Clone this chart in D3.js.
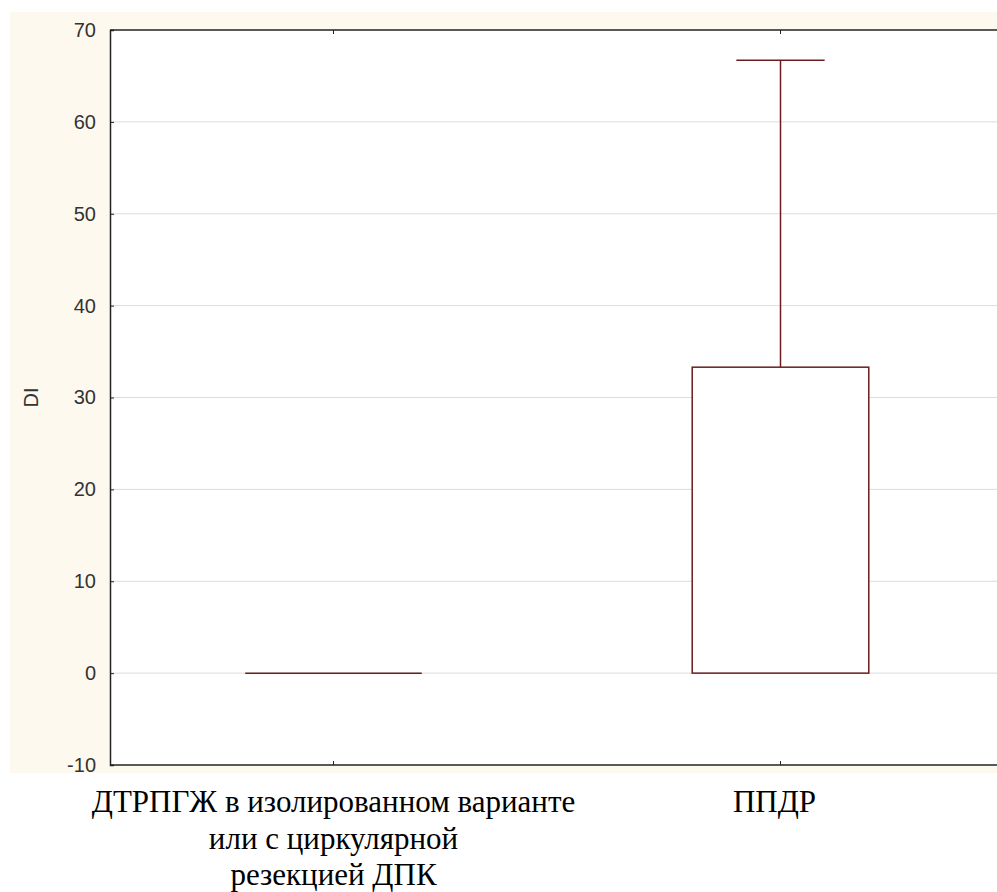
<!DOCTYPE html>
<html><head><meta charset="utf-8">
<script src="https://cdn.jsdelivr.net/npm/d3@7"></script>
<style>body{margin:0;background:#fff;}svg{display:block;}
.sans{font-family:"Liberation Sans",Arial,sans-serif;}
.serif{font-family:"Liberation Serif","Times New Roman",serif;}
</style>
</head><body>
<svg id="c" width="997" height="892"></svg>
<script>
const categories = ["ДТРПГЖ в изолированном варианте|или с циркулярной|резекцией ДПК", "ППДР"];
const boxLow   = [0, 0];
const boxHigh  = [0, 33.3];
const whiskLow = [0, 0];
const whiskHigh= [0, 66.7];
const yTicks = [-10, 0, 10, 20, 30, 40, 50, 60, 70];
const yLabel = "DI";

const svg = d3.select("#c");
const W = 997, H = 892;
const pL = 110, pT = 30, pB = 765, pR = 1004;

// cream panel
svg.append("rect").attr("x", 10).attr("y", 12).attr("width", W - 10).attr("height", 761).attr("fill", "#fdf9ee");
svg.append("rect").attr("x", pL).attr("y", pT).attr("width", pR - pL).attr("height", pB - pT).attr("fill", "#fff");

const y = d3.scaleLinear().domain([-10, 70]).range([pB, pT]);
const x = d3.scaleBand().domain(categories).range([pL, pR]).padding(0);
const xc = d => x(d) + x.bandwidth() / 2;

// gridlines
svg.append("g").selectAll("line").data(yTicks.filter(t => t > -10 && t < 70)).join("line")
  .attr("x1", pL).attr("x2", pR).attr("y1", d => y(d)).attr("y2", d => y(d))
  .attr("stroke", "#dcdcdc").attr("stroke-width", 1);

// y axis
const ya = svg.append("g").attr("transform", `translate(${pL},0)`)
  .call(d3.axisLeft(y).tickValues(yTicks).tickFormat(d => String(d)).tickSize(-4).tickPadding(14));
ya.attr("font-family", null).attr("font-size", null);
ya.select(".domain").attr("stroke", "#222").attr("stroke-width", 1.5);
ya.selectAll(".tick line").attr("stroke", "#222");
ya.selectAll(".tick text").attr("class", "sans").style("font-size", "20px").attr("fill", "#333");

// top and bottom frame
svg.append("line").attr("x1", pL).attr("x2", pR).attr("y1", pT).attr("y2", pT).attr("stroke", "#222").attr("stroke-width", 1.5);
svg.append("line").attr("x1", pL).attr("x2", pR).attr("y1", pB).attr("y2", pB).attr("stroke", "#222").attr("stroke-width", 1.5);
categories.forEach(c => {
  svg.append("line").attr("x1", xc(c)).attr("x2", xc(c)).attr("y1", pB).attr("y2", pB - 4).attr("stroke", "#222");
  svg.append("line").attr("x1", xc(c)).attr("x2", xc(c)).attr("y1", pT).attr("y2", pT + 4).attr("stroke", "#222");
});

// y label
svg.append("text").attr("class", "sans").attr("transform", `translate(38,${(pT + pB) / 2}) rotate(-90)`)
  .attr("text-anchor", "middle").style("font-size", "20px").attr("fill", "#333").text(yLabel);

// boxes
const boxW = x.bandwidth() * 0.395, capW = boxW / 2;
const col = "#6b1c1c";
categories.forEach((c, i) => {
  const cx = xc(c);
  const g = svg.append("g");
  if (whiskHigh[i] > boxHigh[i]) {
    g.append("line").attr("x1", cx).attr("x2", cx).attr("y1", y(boxHigh[i])).attr("y2", y(whiskHigh[i])).attr("stroke", col).attr("stroke-width", 1.5);
    g.append("line").attr("x1", cx - capW / 2).attr("x2", cx + capW / 2).attr("y1", y(whiskHigh[i])).attr("y2", y(whiskHigh[i])).attr("stroke", col).attr("stroke-width", 1.5);
  }
  if (boxHigh[i] > boxLow[i]) {
    g.append("rect").attr("x", cx - boxW / 2).attr("y", y(boxHigh[i])).attr("width", boxW)
      .attr("height", y(boxLow[i]) - y(boxHigh[i])).attr("fill", "#fff").attr("stroke", col).attr("stroke-width", 1.5);
  } else {
    g.append("line").attr("x1", cx - boxW / 2).attr("x2", cx + boxW / 2).attr("y1", y(boxLow[i])).attr("y2", y(boxLow[i])).attr("stroke", col).attr("stroke-width", 1.5);
  }
});

// category labels
categories.forEach((c, i) => {
  const lines = c.split("|");
  const t = svg.append("text").attr("class", "serif").attr("text-anchor", "middle")
    .style("font-size", "31px").attr("fill", "#000");
  lines.forEach((l, k) => {
    t.append("tspan").attr("x", xc(c) - (i === 1 ? 6 : 0)).attr("y", 812 + k * 36.5).text(l);
  });
});
</script>
</body></html>
